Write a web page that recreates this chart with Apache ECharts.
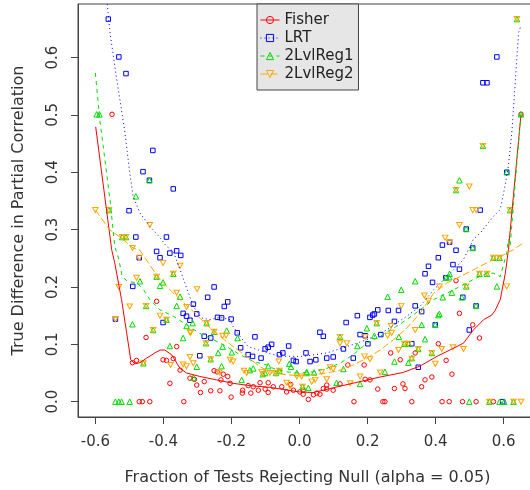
<!DOCTYPE html>
<html>
<head>
<meta charset="utf-8">
<script src="https://cdn.jsdelivr.net/npm/echarts@6/dist/echarts.min.js"></script>
<style>
  html, body { margin: 0; padding: 0; background: #fff; }
  #chart { width: 530px; height: 490px; }
</style>
</head>
<body>
<div id="chart"></div>
<script>
// Axis ticks
const xTicks = [-0.6, -0.4, -0.2, 0.0, 0.2, 0.4, 0.6];
const yTicks = [0.0, 0.1, 0.2, 0.3, 0.4, 0.5, 0.6];

const seriesNames = ['Fisher', 'LRT', '2LvlReg1', '2LvlReg2'];

// Observed points, [fraction, true difference]
const fisherPts = [
  [-0.551,0.501],[-0.420,0.175],[-0.451,0.112],[-0.491,0.068],[-0.479,0.072],[-0.401,0.073],
  [-0.391,0.072],[-0.371,0.075],[-0.361,0.096],[-0.381,0.032],[-0.351,0.055],[-0.322,0.041],
  [-0.302,0.029],[-0.309,0.039],[-0.280,0.035],[-0.291,0.016],[-0.261,0.019],[-0.234,0.019],
  [-0.251,0.054],[-0.242,0.052],[-0.224,0.048],[-0.211,0.044],[-0.231,0.038],[-0.204,0.032],
  [-0.201,0.008],[-0.167,0.020],[-0.151,0.028],[-0.136,0.026],[-0.168,0.015],[-0.143,0.015],
  [-0.121,0.020],[-0.101,0.022],[-0.092,0.033],[-0.077,0.026],[-0.116,0.033],[-0.052,0.026],
  [-0.038,0.017],[-0.018,0.020],[0.001,0.017],[0.011,0.020],[0.011,0.013],[0.026,0.004],
  [0.041,0.012],[0.051,0.015],[0.060,0.013],[0.070,0.023],[0.080,0.022],[0.099,0.020],
  [0.160,0.000],[0.193,0.039],[0.207,0.038],[0.230,0.022],[0.245,0.000],[0.251,0.000],
  [0.268,0.085],[0.279,0.023],[0.296,0.073],[0.304,0.031],[0.310,0.023],[0.330,0.000],
  [0.340,0.085],[0.359,0.026],[0.369,0.038],[0.389,0.043],[0.408,0.101],[0.431,0.072],
  [0.448,0.048],[0.460,0.211],[0.470,0.154],[0.509,0.134],[0.529,0.111],[0.419,0.000],
  [0.440,0.000],[0.479,0.000],[0.519,0.000],[0.570,0.000],[-0.471,0.000],[-0.462,0.000],
  [-0.440,0.000],[-0.340,0.000],[0.142,0.064],[0.190,0.064],[0.080,0.029],[0.119,0.031],
  [-0.026,0.030],[-0.092,0.016],[0.651,0.501]
];

const lrtPts = [
  [-0.562,0.667],[-0.531,0.601],[-0.510,0.572],[-0.431,0.438],[-0.460,0.401],[-0.441,0.386],
  [-0.371,0.371],[-0.501,0.333],[-0.481,0.287],[-0.391,0.287],[-0.471,0.251],[-0.420,0.262],
  [-0.410,0.251],[-0.381,0.259],[-0.361,0.263],[-0.349,0.255],[-0.541,0.144],[-0.490,0.201],
  [-0.401,0.138],[-0.342,0.154],[-0.332,0.149],[-0.322,0.142],[-0.312,0.170],[-0.302,0.153],
  [-0.251,0.200],[-0.270,0.182],[-0.211,0.174],[-0.221,0.166],[-0.241,0.147],[-0.229,0.146],
  [-0.201,0.144],[-0.280,0.114],[-0.261,0.111],[-0.183,0.120],[-0.173,0.094],[-0.131,0.113],
  [-0.293,0.080],[-0.151,0.082],[-0.138,0.079],[-0.113,0.076],[-0.101,0.092],[-0.092,0.095],
  [-0.082,0.100],[-0.059,0.082],[-0.049,0.085],[-0.032,0.097],[-0.018,0.072],[-0.010,0.070],
  [0.019,0.085],[0.031,0.070],[0.048,0.073],[0.080,0.076],[0.099,0.078],[0.060,0.121],
  [0.070,0.114],[0.129,0.092],[0.158,0.076],[0.137,0.138],[0.170,0.150],[0.207,0.147],
  [0.215,0.151],[0.230,0.160],[0.220,0.153],[0.178,0.117],[0.193,0.115],[0.201,0.101],
  [0.239,0.117],[0.279,0.140],[0.261,0.159],[0.291,0.159],[0.340,0.167],[0.330,0.101],
  [0.359,0.157],[0.349,0.060],[0.391,0.208],[0.379,0.236],[0.369,0.223],[0.408,0.251],
  [0.420,0.273],[0.451,0.239],[0.470,0.231],[0.460,0.264],[0.441,0.278],[0.430,0.216],
  [0.399,0.134],[0.480,0.182],[0.519,0.167],[0.499,0.125],[0.490,0.301],[0.509,0.268],
  [0.531,0.334],[0.609,0.400],[0.539,0.556],[0.551,0.556],[0.580,0.601],[0.597,0.000]
];

const reg1Pts = [
  [-0.596,0.501],[-0.588,0.501],[-0.441,0.386],[-0.481,0.358],[-0.560,0.334],[-0.521,0.287],
  [-0.510,0.287],[-0.420,0.218],[-0.371,0.223],[-0.469,0.210],[-0.410,0.202],[-0.401,0.208],
  [-0.451,0.167],[-0.361,0.167],[-0.351,0.183],[-0.491,0.135],[-0.430,0.125],[-0.391,0.143],
  [-0.332,0.132],[-0.342,0.111],[-0.381,0.097],[-0.459,0.067],[-0.312,0.042],[-0.541,0.000],
  [-0.531,0.000],[-0.523,0.000],[-0.499,0.000],[-0.314,0.137],[-0.273,0.137],[-0.251,0.122],
  [-0.275,0.102],[-0.214,0.124],[-0.182,0.111],[-0.226,0.096],[-0.239,0.085],[-0.199,0.086],
  [-0.261,0.074],[-0.229,0.062],[-0.302,0.061],[-0.170,0.038],[-0.146,0.055],[-0.136,0.058],
  [-0.092,0.062],[-0.101,0.050],[-0.108,0.048],[-0.069,0.050],[-0.059,0.054],[-0.030,0.066],
  [-0.025,0.061],[-0.008,0.050],[0.021,0.050],[0.026,0.024],[0.021,0.052],[0.043,0.051],
  [0.009,0.026],[0.119,0.113],[0.170,0.097],[0.129,0.057],[0.109,0.033],[0.178,0.031],
  [0.198,0.128],[0.227,0.137],[0.251,0.052],[0.279,0.070],[0.292,0.113],[0.320,0.068],
  [0.308,0.101],[0.320,0.101],[0.259,0.183],[0.299,0.195],[0.340,0.210],[0.220,0.115],
  [0.411,0.153],[0.359,0.134],[0.369,0.109],[0.349,0.092],[0.330,0.076],[0.389,0.085],
  [0.477,0.182],[0.440,0.217],[0.448,0.190],[0.421,0.182],[0.408,0.151],[0.430,0.216],
  [0.399,0.134],[0.519,0.167],[0.490,0.301],[0.509,0.268],[0.609,0.400],[0.470,0.386],
  [0.460,0.369],[0.539,0.446],[0.619,0.334],[0.570,0.251],[0.588,0.251],[0.529,0.223],
  [0.551,0.223],[0.441,0.223],[0.580,0.201],[0.639,0.667],[0.651,0.501],[0.499,0.000],
  [0.558,0.000],[0.588,0.000],[0.602,0.000],[0.629,0.000],[0.490,0.201]
];

const reg2Pts = [
  [-0.600,0.334],[-0.560,0.334],[-0.521,0.287],[-0.510,0.287],[-0.440,0.308],[-0.491,0.268],
  [-0.471,0.251],[-0.401,0.242],[-0.351,0.237],[-0.420,0.218],[-0.371,0.223],[-0.479,0.216],
  [-0.541,0.144],[-0.531,0.200],[-0.499,0.166],[-0.451,0.167],[-0.430,0.125],[-0.459,0.067],
  [-0.379,0.064],[-0.361,0.190],[-0.332,0.165],[-0.410,0.150],[-0.391,0.143],[-0.322,0.121],
  [-0.342,0.065],[-0.332,0.062],[-0.322,0.078],[-0.312,0.067],[-0.301,0.196],[-0.320,0.120],
  [-0.273,0.137],[-0.251,0.122],[-0.275,0.102],[-0.261,0.074],[-0.226,0.115],[-0.216,0.115],
  [-0.204,0.073],[-0.195,0.070],[-0.163,0.054],[-0.155,0.050],[-0.236,0.051],[-0.108,0.048],
  [-0.069,0.050],[-0.059,0.054],[-0.061,0.070],[-0.038,0.033],[-0.028,0.027],[-0.008,0.044],
  [-0.087,0.050],[-0.111,0.052],[0.006,0.044],[0.036,0.035],[0.046,0.038],[0.065,0.052],
  [0.009,0.026],[0.119,0.113],[0.119,0.102],[0.139,0.102],[0.191,0.079],[0.237,0.051],
  [0.259,0.115],[0.271,0.120],[0.291,0.090],[0.308,0.101],[0.320,0.101],[0.090,0.060],
  [0.099,0.057],[0.080,0.039],[0.149,0.032],[0.207,0.074],[0.178,0.044],[0.227,0.137],
  [0.299,0.167],[0.367,0.185],[0.379,0.176],[0.340,0.125],[0.269,0.132],[0.193,0.113],
  [0.418,0.092],[0.451,0.095],[0.482,0.092],[0.399,0.066],[0.349,0.092],[0.330,0.075],
  [0.389,0.085],[0.411,0.201],[0.490,0.201],[0.529,0.223],[0.551,0.223],[0.570,0.251],
  [0.588,0.251],[0.609,0.201],[0.428,0.286],[0.441,0.278],[0.470,0.308],[0.499,0.375],
  [0.509,0.334],[0.519,0.334],[0.460,0.369],[0.539,0.446],[0.619,0.334],[0.639,0.667],
  [0.558,0.000],[0.629,0.000],[0.651,0.000]
];

// Smoothed trend per method
const fisherCurve = [
  [-0.599,0.479],[-0.552,0.265],[-0.543,0.242],[-0.523,0.178],[-0.508,0.120],[-0.496,0.073],
  [-0.484,0.066],[-0.469,0.068],[-0.449,0.076],[-0.425,0.085],[-0.410,0.090],[-0.396,0.090],
  [-0.376,0.082],[-0.351,0.058],[-0.332,0.050],[-0.293,0.044],[-0.244,0.038],[-0.195,0.032],
  [-0.146,0.028],[-0.087,0.025],[0.000,0.017],[0.040,0.016],[0.070,0.020],[0.119,0.027],
  [0.178,0.035],[0.237,0.043],[0.305,0.051],[0.354,0.062],[0.404,0.079],[0.452,0.093],
  [0.482,0.102],[0.511,0.125],[0.541,0.143],[0.565,0.151],[0.575,0.159],[0.590,0.178],
  [0.605,0.224],[0.614,0.265],[0.651,0.501]
];

const lrtCurve = [
  [-0.565,0.693],[-0.557,0.644],[-0.543,0.585],[-0.528,0.527],[-0.513,0.469],[-0.499,0.399],
  [-0.489,0.358],[-0.469,0.329],[-0.440,0.306],[-0.410,0.286],[-0.391,0.271],[-0.371,0.262],
  [-0.351,0.230],[-0.337,0.207],[-0.312,0.166],[-0.288,0.146],[-0.263,0.143],[-0.234,0.147],
  [-0.204,0.143],[-0.195,0.131],[-0.175,0.114],[-0.151,0.096],[-0.121,0.090],[-0.077,0.082],
  [-0.038,0.079],[0.011,0.079],[0.080,0.085],[0.139,0.096],[0.198,0.108],[0.256,0.125],
  [0.315,0.149],[0.354,0.166],[0.394,0.195],[0.443,0.224],[0.482,0.248],[0.511,0.283],
  [0.531,0.294],[0.570,0.323],[0.590,0.335],[0.604,0.376],[0.614,0.411],[0.624,0.469],
  [0.634,0.556],[0.644,0.644],[0.649,0.652]
];

const reg1Curve = [
  [-0.600,0.573],[-0.587,0.492],[-0.572,0.422],[-0.557,0.352],[-0.543,0.271],[-0.531,0.248],
  [-0.521,0.218],[-0.506,0.210],[-0.477,0.207],[-0.458,0.195],[-0.440,0.178],[-0.410,0.160],
  [-0.371,0.149],[-0.332,0.134],[-0.293,0.119],[-0.253,0.108],[-0.214,0.096],[-0.175,0.082],
  [-0.136,0.070],[-0.096,0.064],[-0.077,0.058],[-0.038,0.052],[0.001,0.050],[0.040,0.052],
  [0.080,0.058],[0.119,0.067],[0.158,0.082],[0.198,0.102],[0.237,0.114],[0.276,0.128],
  [0.315,0.143],[0.354,0.160],[0.394,0.178],[0.433,0.189],[0.472,0.201],[0.511,0.213],
  [0.551,0.224],[0.570,0.224],[0.590,0.218],[0.609,0.259],[0.614,0.283],[0.619,0.271],
  [0.634,0.382],[0.651,0.501]
];

const reg2Curve = [
  [-0.600,0.334],[-0.558,0.300],[-0.519,0.283],[-0.489,0.268],[-0.469,0.264],[-0.450,0.247],
  [-0.420,0.221],[-0.391,0.201],[-0.351,0.178],[-0.312,0.157],[-0.273,0.134],[-0.234,0.114],
  [-0.195,0.096],[-0.155,0.079],[-0.116,0.061],[-0.087,0.052],[-0.077,0.050],[-0.038,0.047],
  [0.001,0.045],[0.040,0.047],[0.080,0.050],[0.119,0.055],[0.158,0.064],[0.198,0.076],
  [0.237,0.090],[0.276,0.108],[0.315,0.128],[0.354,0.154],[0.394,0.189],[0.433,0.207],
  [0.472,0.218],[0.511,0.230],[0.551,0.242],[0.590,0.253],[0.629,0.265],[0.658,0.277]
];

const FONT = '"DejaVu Sans", Verdana, sans-serif';
const colors = ['#ff0000', '#0000ff', '#00dd00', '#ffa500'];
const symbols = ['circle', 'rect', 'triangle', 'path://M0,0L20,0L10,18Z'];
const symbolSizes = [4.5, 4.5, 5.5, [5.5, 5]];
const dashes = ['solid', [1, 3], [4, 4], [7, 3]];
const pointSets = [fisherPts, lrtPts, reg1Pts, reg2Pts];
const curveSets = [fisherCurve, lrtCurve, reg1Curve, reg2Curve];

const hollow = 'rgba(255,255,255,0)';

const series = [];
// trend lines first, so the legend picks them up with their line style
seriesNames.forEach((name, i) => {
  series.push({
    name: name,
    type: 'line',
    data: curveSets[i],
    showSymbol: false,
    symbol: symbols[i],
    symbolSize: symbolSizes[i],
    smooth: false,
    silent: true,
    z: 3,
    itemStyle: { color: hollow, borderColor: colors[i], borderWidth: 1 },
    lineStyle: { color: colors[i], width: 1, type: dashes[i] }
  });
});
seriesNames.forEach((name, i) => {
  series.push({
    name: name,
    type: 'scatter',
    data: pointSets[i],
    symbol: symbols[i],
    symbolSize: symbolSizes[i],
    silent: true,
    z: 2,
    itemStyle: { color: hollow, borderColor: colors[i], borderWidth: 1, opacity: 1 }
  });
});

const legendData = seriesNames.map((name, i) => ({
  name: name,
  itemStyle: { color: hollow, borderColor: colors[i], borderWidth: 1 },
  lineStyle: { color: colors[i], width: 1, type: dashes[i] }
}));

const chart = echarts.init(document.getElementById('chart'), null, { renderer: 'canvas' });
chart.setOption({
  animation: false,
  backgroundColor: '#ffffff',
  textStyle: { fontFamily: FONT },
  grid: {
    left: 78, top: 4, right: -7, bottom: 73,
    show: true, borderColor: '#444', borderWidth: 1,
    backgroundColor: 'transparent',
    containLabel: false,
    outerBoundsMode: 'none'
  },
  legend: {
    orient: 'vertical',
    left: 257, top: 4,
    backgroundColor: '#e6e6e6',
    borderColor: '#444', borderWidth: 1, borderRadius: 0,
    padding: [8, 5, 8, 3],
    itemWidth: 19, itemHeight: 9, itemGap: 2,
    selectedMode: false,
    textStyle: { fontFamily: FONT, fontSize: 15, color: '#222', lineHeight: 16 },
    data: legendData
  },
  xAxis: {
    type: 'value',
    min: -0.651, max: 0.698,
    name: 'Fraction of Tests Rejecting Null (alpha = 0.05)',
    nameLocation: 'middle', nameGap: 53,
    nameTextStyle: { fontFamily: FONT, fontSize: 16, color: '#333' },
    axisLine: { show: true, onZero: false, lineStyle: { color: '#444', width: 1 } },
    axisTick: { show: true, inside: false, length: 7, customValues: xTicks, lineStyle: { color: '#444' } },
    axisLabel: { customValues: xTicks, margin: 18, fontSize: 15, color: '#333', fontFamily: FONT,
                 formatter: v => v.toFixed(1) },
    splitLine: { show: false }
  },
  yAxis: {
    type: 'value',
    min: -0.0267, max: 0.6933,
    name: 'True Difference in Partial Correlation',
    nameLocation: 'middle', nameGap: 51,
    nameTextStyle: { fontFamily: FONT, fontSize: 16, color: '#333' },
    axisLine: { show: true, onZero: false, lineStyle: { color: '#444', width: 1 } },
    axisTick: { show: true, inside: false, length: 7, customValues: yTicks, lineStyle: { color: '#444' } },
    axisLabel: { customValues: yTicks, rotate: 90, margin: 17, fontSize: 15, color: '#333', fontFamily: FONT,
                 formatter: v => v.toFixed(1) },
    splitLine: { show: false }
  },
  series: series
});
</script>
</body>
</html>
